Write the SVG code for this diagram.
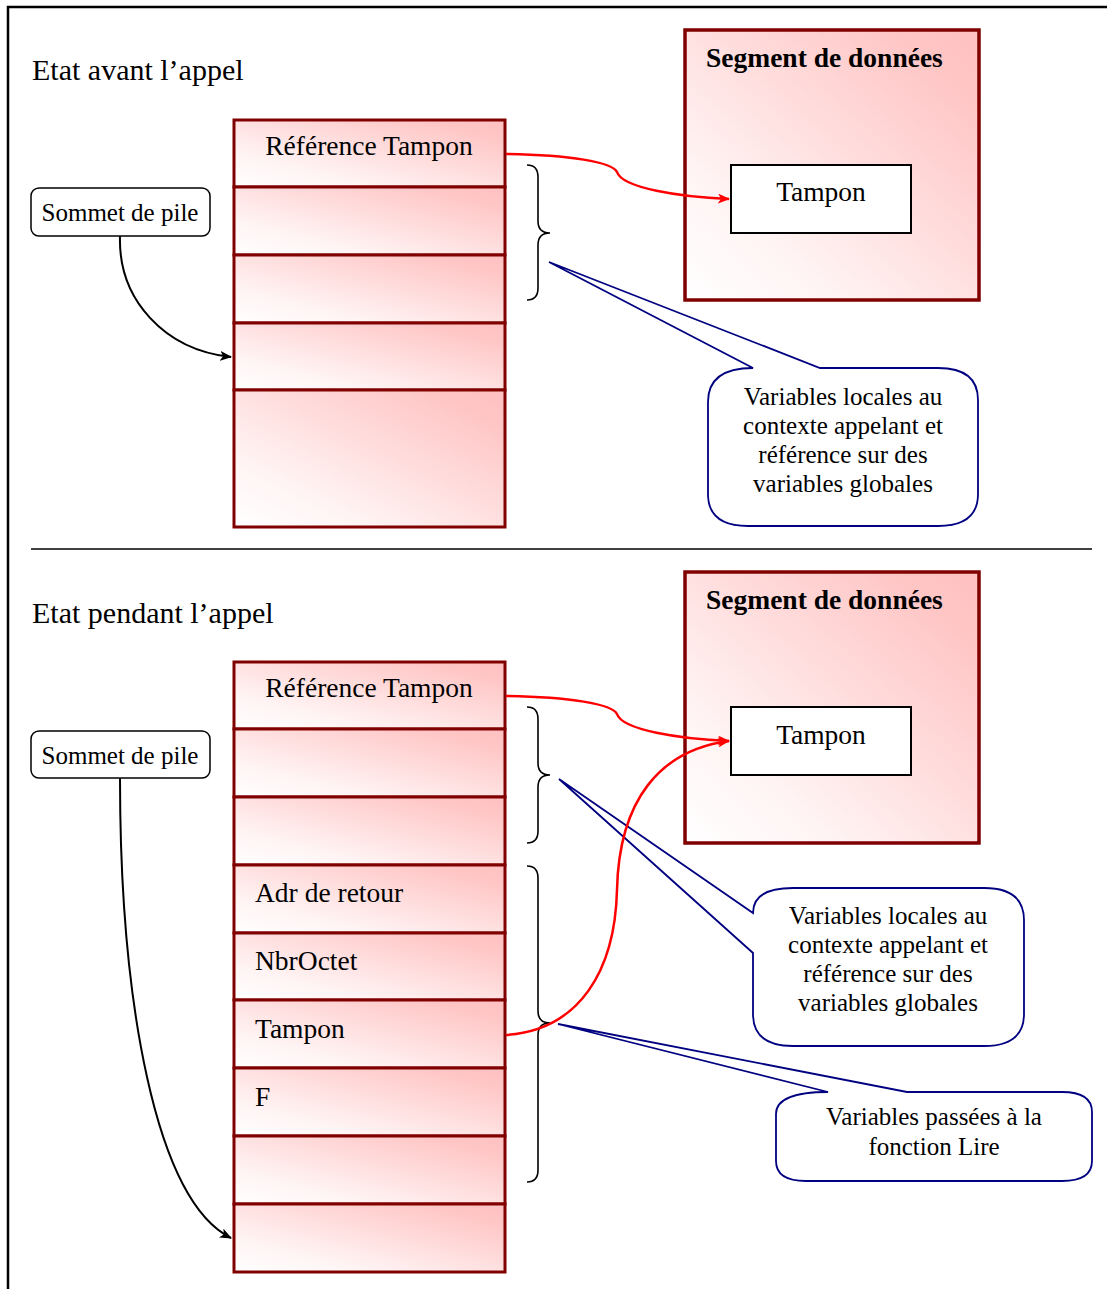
<svg xmlns="http://www.w3.org/2000/svg" width="1107" height="1289" viewBox="0 0 1107 1289">
  <style>
    .t { font-family: "Liberation Serif", "Times New Roman", serif; fill: #000; }
    .title { font-size: 30px; }
    .cell { font-size: 27.5px; }
    .seg { font-size: 27.5px; font-weight: bold; }
    .small { font-size: 25px; }
    .mid { text-anchor: middle; }
    .slot { stroke: #800000; stroke-width: 3; fill: url(#pink); }
    .segbox { stroke: #800000; stroke-width: 3.5; fill: url(#pink); }
    .buf { fill: #fff; stroke: #000; stroke-width: 2; }
    .tag { fill: #fff; stroke: #000; stroke-width: 1.5; }
    .callout { fill: #fff; stroke: #000080; stroke-width: 1.8; stroke-linejoin: miter; }
    .brace { fill: none; stroke: #000; stroke-width: 1.6; }
    .ref { fill: none; stroke: #ff0000; stroke-width: 2.5; }
    .ptr { fill: none; stroke: #000; stroke-width: 2; }
    .frame { fill: none; stroke: #000; stroke-width: 2.5; }
  </style>
  <defs>
    <linearGradient id="pink" x1="0" y1="1" x2="1" y2="0">
      <stop offset="0" stop-color="#ffffff"/>
      <stop offset="0.25" stop-color="#fff4f4"/>
      <stop offset="0.85" stop-color="#ffc6c6"/>
      <stop offset="1" stop-color="#ffc0c0"/>
    </linearGradient>
    <marker id="redHead" viewBox="0 0 12 10" refX="11" refY="5" markerWidth="12" markerHeight="10" markerUnits="userSpaceOnUse" orient="auto">
      <path d="M0,0 L12,5 L0,10 L3,5 Z" fill="#ff0000"/>
    </marker>
    <marker id="blackHead" viewBox="0 0 12 10" refX="11" refY="5" markerWidth="12" markerHeight="10" markerUnits="userSpaceOnUse" orient="auto">
      <path d="M0,0 L12,5 L0,10 L3,5 Z" fill="#000"/>
    </marker>
  </defs>

  <!-- page frame and separator -->
  <g id="frame">
    <path class="frame" d="M8,1289 L8,7 L1107,7"/>
    <line x1="31" y1="549" x2="1092" y2="549" stroke="#000" stroke-width="1.5"/>
  </g>

  <!-- ===== before the call ===== -->
  <text id="title-avant" class="t title" x="32" y="80">Etat avant l’appel</text>

  <g id="stack-avant">
    <rect class="slot" x="234" y="120" width="271" height="67"/>
    <rect class="slot" x="234" y="187" width="271" height="68"/>
    <rect class="slot" x="234" y="255" width="271" height="68"/>
    <rect class="slot" x="234" y="323" width="271" height="67"/>
    <rect class="slot" x="234" y="390" width="271" height="137"/>
    <text class="t cell mid" x="369" y="155">Référence Tampon</text>
  </g>

  <g id="sommet-avant">
    <rect class="tag" x="31" y="188" width="179" height="48" rx="8"/>
    <text class="t small mid" x="120" y="221">Sommet de pile</text>
  </g>

  <g id="segment-avant">
    <rect class="segbox" x="685" y="30" width="294" height="270"/>
    <text class="t seg" x="706" y="67">Segment de données</text>
  </g>
  <g id="tampon-avant">
    <rect class="buf" x="731" y="165" width="180" height="68"/>
    <text class="t cell mid" x="821" y="201">Tampon</text>
  </g>

  <g id="callout-avant">
    <path class="callout" d="M753,368 L549,262 L820,368 L938,368 Q978,368 978,400 L978,494 Q978,526 938,526 L748,526 Q708,526 708,494 L708,402 Q708,368 753,368 Z"/>
    <text class="t small mid" x="843" y="405">Variables locales au</text>
    <text class="t small mid" x="843" y="434">contexte appelant et</text>
    <text class="t small mid" x="843" y="463">référence sur des</text>
    <text class="t small mid" x="843" y="492">variables globales</text>
  </g>

  <!-- ===== during the call ===== -->
  <text id="title-pendant" class="t title" x="32" y="623">Etat pendant l’appel</text>

  <g id="stack-pendant">
    <rect class="slot" x="234" y="662" width="271" height="67"/>
    <rect class="slot" x="234" y="729" width="271" height="68"/>
    <rect class="slot" x="234" y="797" width="271" height="68"/>
    <rect class="slot" x="234" y="865" width="271" height="68"/>
    <rect class="slot" x="234" y="933" width="271" height="67"/>
    <rect class="slot" x="234" y="1000" width="271" height="68"/>
    <rect class="slot" x="234" y="1068" width="271" height="68"/>
    <rect class="slot" x="234" y="1136" width="271" height="68"/>
    <rect class="slot" x="234" y="1204" width="271" height="68"/>
    <text class="t cell mid" x="369" y="697">Référence Tampon</text>
    <text class="t cell" x="255" y="902">Adr de retour</text>
    <text class="t cell" x="255" y="970">NbrOctet</text>
    <text class="t cell" x="255" y="1038">Tampon</text>
    <text class="t cell" x="255" y="1106">F</text>
  </g>

  <g id="sommet-pendant">
    <rect class="tag" x="31" y="731" width="179" height="47" rx="8"/>
    <text class="t small mid" x="120" y="764">Sommet de pile</text>
  </g>

  <g id="segment-pendant">
    <rect class="segbox" x="685" y="572" width="294" height="271"/>
    <text class="t seg" x="706" y="609">Segment de données</text>
  </g>
  <g id="tampon-pendant">
    <rect class="buf" x="731" y="707" width="180" height="68"/>
    <text class="t cell mid" x="821" y="744">Tampon</text>
  </g>

  <g id="callout-locales">
    <path class="callout" d="M793,888 L984,888 Q1024,888 1024,920 L1024,1014 Q1024,1046 984,1046 L793,1046 Q753,1046 753,1014 L753,953 L559,779 L753,913 Q753,888 793,888 Z"/>
    <text class="t small mid" x="888" y="924">Variables locales au</text>
    <text class="t small mid" x="888" y="953">contexte appelant et</text>
    <text class="t small mid" x="888" y="982">référence sur des</text>
    <text class="t small mid" x="888" y="1011">variables globales</text>
  </g>

  <g id="callout-params">
    <path class="callout" d="M828,1092 L558,1024 L907,1092 L1062,1092 Q1092,1092 1092,1112 L1092,1161 Q1092,1181 1062,1181 L806,1181 Q776,1181 776,1161 L776,1114 Q776,1092 828,1092 Z"/>
    <text class="t small mid" x="934" y="1125">Variables passées à la</text>
    <text class="t small mid" x="934" y="1155">fonction Lire</text>
  </g>

  <!-- connectors: braces, pointers and references -->
  <g id="connectors">
    <path class="brace" d="M527,165 Q538,165 538,177 L538,221 Q538,233 550,233 Q538,233 538,245 L538,288 Q538,300 527,300"/>
    <path class="brace" d="M527,707 Q538,707 538,719 L538,763 Q538,775 550,775 Q538,775 538,787 L538,831 Q538,843 527,843"/>
    <path class="brace" d="M527,866 Q538,866 538,878 L538,1011 Q538,1023 550,1023 Q538,1023 538,1035 L538,1170 Q538,1182 527,1182"/>

    <path class="ptr" d="M120,236 C118,300 165,350 231,357" marker-end="url(#blackHead)"/>
    <path class="ptr" d="M120,778 C120,1000 155,1200 231,1238" marker-end="url(#blackHead)"/>

    <path class="ref" d="M506,154 C570,155 612,162 617,172 C622,188 680,197 729,199" marker-end="url(#redHead)"/>
    <path class="ref" d="M506,696 C570,697 612,704 617,714 C622,730 680,739 729,741" marker-end="url(#redHead)"/>
    <path class="ref" d="M506,1035 C580,1030 615,970 617,890 C619,800 660,750 729,741" marker-end="url(#redHead)"/>
  </g>
</svg>
